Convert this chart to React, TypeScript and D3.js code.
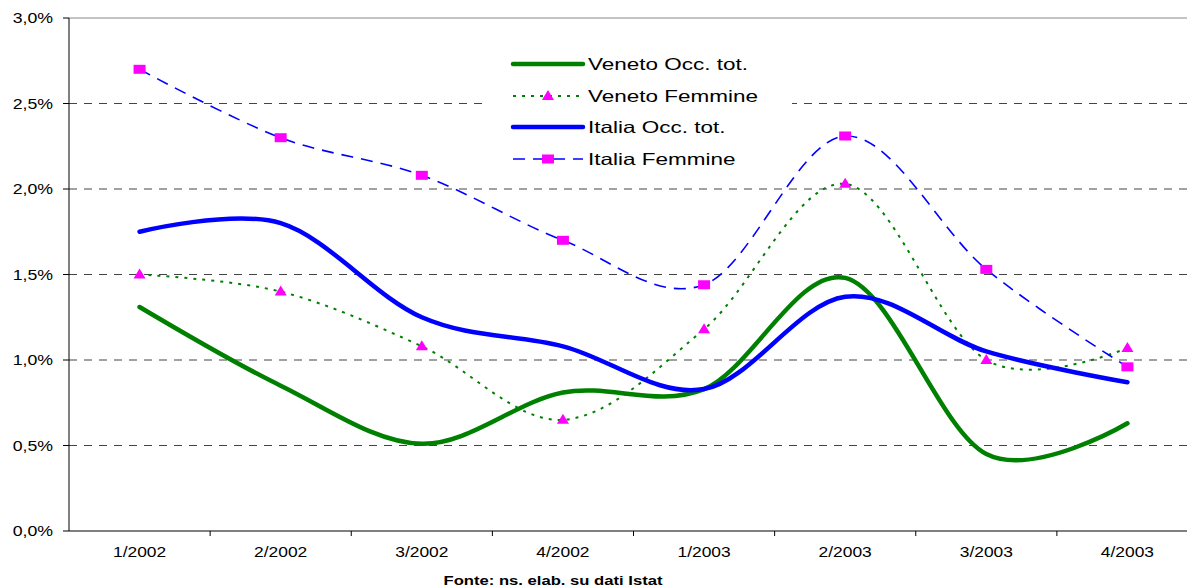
import React from "react";
import * as d3 from "d3";

const width = 1187;
const height = 587;
const margin = { top: 18, left: 69, bottom: 531, right: 1198 };

const quarters = ["1/2002", "2/2002", "3/2002", "4/2002", "1/2003", "2/2003", "3/2003", "4/2003"];
const venetoTot = [1.31, 0.85, 0.51, 0.81, 0.83, 1.48, 0.45, 0.63];
const venetoFem = [1.5, 1.4, 1.08, 0.65, 1.18, 2.03, 1.0, 1.07];
const italiaTot = [1.75, 1.8, 1.25, 1.08, 0.83, 1.37, 1.05, 0.87];
const italiaFem = [2.7, 2.3, 2.08, 1.7, 1.44, 2.31, 1.53, 0.96];
const yTicks = [0, 0.5, 1, 1.5, 2, 2.5, 3];

const font = "'Liberation Sans', Arial, sans-serif";
// the source picture is stretched horizontally, so text is widened a bit
const Txt = ({ x, y, sx, size, anchor, bold, children }: any) => (
  <text
    transform={`translate(${x},${y}) scale(${sx},1)`}
    textAnchor={anchor || "start"}
    fontSize={size}
    fontWeight={bold ? "bold" : "normal"}
    fontFamily={font}
    fill="#000"
  >
    {children}
  </text>
);

const triPath = "M0,-6L6,4L-6,4Z";

const App = () => {
  const x = d3.scaleBand().domain(quarters).range([margin.left, margin.right]);
  const y = d3.scaleLinear().domain([0, 3]).range([margin.bottom, margin.top]);
  const cx = (q: string) => (x(q) as number) + x.bandwidth() / 2;

  const line = d3
    .line<number>()
    .x((_, i) => cx(quarters[i]))
    .y((d) => y(d))
    .curve(d3.curveCardinal.tension(0));

  const fmt = (v: number) => v.toFixed(1).replace(".", ",") + "%";

  const legend = [
    { label: "Veneto Occ. tot.", color: "#008000", w: 4.5, dash: null, marker: null },
    { label: "Veneto Femmine", color: "#008000", w: 2, dash: "3 6", marker: "tri" },
    { label: "Italia Occ. tot.", color: "#0000ff", w: 4.5, dash: null, marker: null },
    { label: "Italia Femmine", color: "#0000ff", w: 1.6, dash: "12 8", marker: "sq" },
  ];
  const legendY = [64, 96, 127, 159];

  return (
    <svg width={width} height={height} style={{ position: "absolute", left: 0, top: 0, background: "#fff" }}>
      {/* grid */}
      {yTicks.slice(1).map((t) => (
        <line
          key={t}
          x1={margin.left}
          x2={margin.right}
          y1={y(t)}
          y2={y(t)}
          stroke={t === 3 ? "#888" : "#444"}
          strokeWidth={1}
          strokeDasharray={t === 3 ? undefined : "8 7"}
        />
      ))}

      {/* legend box */}
      <rect x={485} y={42} width={307} height={140} fill="#fff" />

      {/* axes */}
      <line x1={margin.left} x2={margin.left} y1={margin.top} y2={margin.bottom} stroke="#000" />
      <line x1={margin.left} x2={margin.right} y1={margin.bottom} y2={margin.bottom} stroke="#000" />
      {yTicks.map((t) => (
        <g key={t}>
          <line x1={margin.left - 6} x2={margin.left} y1={y(t)} y2={y(t)} stroke="#000" />
          <Txt x={53} y={y(t) + 5} sx={1.18} size={15} anchor="end">
            {fmt(t)}
          </Txt>
        </g>
      ))}
      {quarters.map((q, i) => (
        <g key={q}>
          {i > 0 && (
            <line x1={x(q)} x2={x(q)} y1={margin.bottom} y2={margin.bottom + 5} stroke="#000" />
          )}
          <Txt x={cx(q)} y={557} sx={1.16} size={15} anchor="middle">
            {q}
          </Txt>
        </g>
      ))}

      {/* series */}
      <path d={line(venetoTot) || ""} fill="none" stroke="#008000" strokeWidth={4.5} strokeLinecap="round" />
      <path d={line(venetoFem) || ""} fill="none" stroke="#008000" strokeWidth={2} strokeDasharray="3 6" />
      {venetoFem.map((v, i) => (
        <path key={i} d={triPath} transform={`translate(${cx(quarters[i])},${y(v)})`} fill="#ff00ff" />
      ))}
      <path d={line(italiaTot) || ""} fill="none" stroke="#0000ff" strokeWidth={4.5} strokeLinecap="round" />
      <path d={line(italiaFem) || ""} fill="none" stroke="#0000ff" strokeWidth={1.6} strokeDasharray="12 8" />
      {italiaFem.map((v, i) => (
        <rect key={i} x={cx(quarters[i]) - 6} y={y(v) - 4.5} width={12} height={9} fill="#ff00ff" />
      ))}

      {/* legend */}
      {legend.map((l, i) => (
        <g key={l.label}>
          <line
            x1={513}
            x2={583}
            y1={legendY[i]}
            y2={legendY[i]}
            stroke={l.color}
            strokeWidth={l.w}
            strokeDasharray={l.dash || undefined}
            strokeLinecap={l.dash ? "butt" : "round"}
          />
          {l.marker === "tri" && (
            <path d={triPath} transform={`translate(548,${legendY[i]})`} fill="#ff00ff" />
          )}
          {l.marker === "sq" && <rect x={542} y={legendY[i] - 4.5} width={12} height={9} fill="#ff00ff" />}
          <Txt x={588} y={legendY[i] + 6} sx={1.38} size={16.3}>
            {l.label}
          </Txt>
        </g>
      ))}

      <Txt x={553} y={585} sx={1.28} size={13} anchor="middle" bold>
        Fonte: ns. elab. su dati Istat
      </Txt>
    </svg>
  );
};

export default App;
